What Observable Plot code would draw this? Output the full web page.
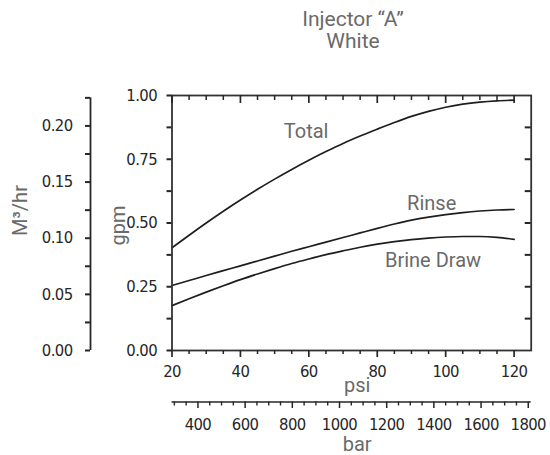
<!DOCTYPE html>
<html>
<head>
<meta charset="utf-8">
<script src="https://cdn.jsdelivr.net/npm/d3@7"></script>
<script src="https://cdn.jsdelivr.net/npm/@observablehq/plot@0.6"></script>
<style>
  html, body { margin: 0; padding: 0; background: #fff; }
  #title {
    width: 550px; height: 55px; box-sizing: border-box;
    padding-top: 8px; padding-left: 156px;
    text-align: center; font-family: Roboto, "Noto Sans", sans-serif;
    font-size: 21px; line-height: 22px; color: #6a6a6a;
  }
  #chart svg { display: block; overflow: visible; }
  #chart g[aria-label$="tick label"] text { letter-spacing: -0.6px; }
</style>
</head>
<body>
<div id="title">Injector “A”<br>White</div>
<div id="chart"></div>
<script>
// ---- data ----
const psi   = [20, 25, 30, 35, 40, 45, 50, 55, 60, 65, 70, 75, 80, 85, 90, 95, 100, 105, 110, 115, 120];
const total = [0.403, 0.452, 0.500, 0.546, 0.590, 0.632, 0.672, 0.710, 0.746, 0.780, 0.812, 0.841, 0.868, 0.894, 0.918, 0.938, 0.954, 0.966, 0.974, 0.979, 0.982];
const rinse = [0.255, 0.2745, 0.294, 0.313, 0.332, 0.351, 0.370, 0.389, 0.407, 0.425, 0.443, 0.461, 0.479, 0.496, 0.511, 0.523, 0.533, 0.541, 0.547, 0.551, 0.553];
const brine = [0.176, 0.203, 0.229, 0.254, 0.278, 0.300, 0.321, 0.341, 0.359, 0.376, 0.391, 0.405, 0.417, 0.427, 0.435, 0.441, 0.445, 0.447, 0.447, 0.444, 0.436];

const seriesNames = ["Total", "Rinse", "Brine Draw"];
const labelPsi = [59.2, 95.9, 96.3];
const labelGpm = [0.860, 0.577, 0.352];

const psiTicks = [20, 40, 60, 80, 100, 120];
const gpmTicks = [0, 0.25, 0.5, 0.75, 1];
const m3Ticks  = [0, 0.05, 0.10, 0.15, 0.20];
const barTicks = [400, 600, 800, 1000, 1200, 1400, 1600, 1800];

const M3HR_PER_GPM = 0.2271;   // secondary left axis
const BAR_FACTOR = 14.5;       // bottom "bar" axis as drawn: value = psi × 14.5

// minor tick sets
const psiMinor = d3.range(25, 125, 5).filter(v => !psiTicks.includes(v));
const gpmMinor = [0.125, 0.375, 0.625, 0.875];
const gpmInner = [0.125, 0.25, 0.375, 0.5, 0.625, 0.75, 0.875];
const m3Minor = [0.025, 0.075, 0.125, 0.175, 0.225];
const barMinor = d3.range(300, 1801, 50).filter(v => !barTicks.includes(v));

const rows = [];
psi.forEach((p, i) => {
  rows.push({series: "Total", psi: p, gpm: total[i]});
  rows.push({series: "Rinse", psi: p, gpm: rinse[i]});
  rows.push({series: "Brine Draw", psi: p, gpm: brine[i]});
});
const labels = seriesNames.map((s, i) => ({name: s, psi: labelPsi[i], gpm: labelGpm[i]}));

const tickFont = "'Liberation Sans Narrow', 'DejaVu Sans Condensed', Roboto, sans-serif";
const labFont = "Roboto, 'Noto Sans', sans-serif";
const ink = "#262626";
const gray = "#6a6a6a";

const W = 550, H = 400, mL = 171.5, mR = 19.3, mT = 40, mB = 105;
const frameW = W - mL - mR, frameH = H - mT - mB;
const leftShift = -81.5;   // M³/hr axis offset from frame left
const barShift = 51.5;     // bar axis offset below frame bottom

const lab = {fontFamily: labFont, fontSize: 20, fill: gray, textAnchor: "middle", lineAnchor: "middle"};
const tk = {stroke: ink, fill: "none", label: null};

const chart = Plot.plot({
  width: W, height: H,
  marginLeft: mL, marginRight: mR, marginTop: mT, marginBottom: mB,
  style: {background: "#fff", overflow: "visible"},
  x: {domain: [20, 125], label: null},
  y: {domain: [0, 1], label: null},
  marks: [
    // curves
    Plot.line(rows, {x: "psi", y: "gpm", z: "series", curve: "monotone-x", stroke: "#1e1e1e", strokeWidth: 1.7}),
    Plot.frame({stroke: "#333", strokeWidth: 1.8}),

    // main gpm axis (left, outward)
    Plot.axisY(gpmTicks, {anchor: "left", tickSize: 5, tickPadding: 10, tickFormat: d3.format(".2f"),
      stroke: ink, strokeWidth: 2, fill: ink, fontFamily: tickFont, fontSize: 16.5, label: null}),
    Plot.axisY(gpmMinor, {...tk, anchor: "left", tickSize: 5, strokeWidth: 2}),
    // right frame: inward ticks
    Plot.axisY(gpmInner, {...tk, anchor: "left", tickSize: 6, dx: frameW, strokeWidth: 2}),

    // psi axis bottom (outward)
    Plot.axisX(psiTicks, {anchor: "bottom", tickSize: 7, tickPadding: 8, tickFormat: d => String(d),
      stroke: ink, strokeWidth: 1.7, fill: ink, fontFamily: tickFont, fontSize: 16.5, label: null}),
    Plot.axisX(psiMinor, {...tk, anchor: "bottom", tickSize: 4, strokeWidth: 1.5}),
    // top frame: inward ticks
    Plot.axisX(psiTicks, {...tk, anchor: "bottom", tickSize: 8, dy: -frameH, strokeWidth: 1.7}),
    Plot.axisX(psiMinor, {...tk, anchor: "bottom", tickSize: 5, dy: -frameH, strokeWidth: 1.5}),

    // secondary M³/hr axis
    Plot.ruleX([20], {y1: 0, y2: 0.225 / M3HR_PER_GPM, dx: leftShift, stroke: ink, strokeWidth: 1.8}),
    Plot.axisY(m3Ticks.map(v => v / M3HR_PER_GPM), {anchor: "left", dx: leftShift, tickSize: 5, tickPadding: 13,
      tickFormat: d => (d * M3HR_PER_GPM).toFixed(2),
      stroke: ink, strokeWidth: 2, fill: ink, fontFamily: tickFont, fontSize: 16.5, label: null}),
    Plot.axisY(m3Minor.map(v => v / M3HR_PER_GPM), {...tk, anchor: "left", dx: leftShift, tickSize: 5, strokeWidth: 2}),

    // bar axis
    Plot.ruleY([0], {dy: barShift, stroke: ink, strokeWidth: 1.6}),
    Plot.axisX(barTicks.map(v => v / BAR_FACTOR), {anchor: "bottom", dy: barShift, tickSize: 6.5, tickPadding: 10,
      tickFormat: d => String(Math.round(d * BAR_FACTOR)),
      stroke: ink, strokeWidth: 1.5, fill: ink, fontFamily: tickFont, fontSize: 16.5, label: null}),
    Plot.axisX(barMinor.map(v => v / BAR_FACTOR), {...tk, anchor: "bottom", dy: barShift, tickSize: 4, strokeWidth: 1.4}),

    // axis titles
    Plot.text(["psi"], {...lab, frameAnchor: "bottom", dx: 5.5, dy: 34.6}),
    Plot.text(["bar"], {...lab, frameAnchor: "bottom", dx: 5.5, dy: 93.6}),
    Plot.text(["gpm"], {...lab, frameAnchor: "left", dx: -53.5, dy: 2.5, rotate: -90}),
    Plot.text(["M³/hr"], {...lab, frameAnchor: "left", dx: -151.2, dy: -12.5, rotate: -90}),

    // series labels
    Plot.text(labels, {...lab, x: "psi", y: "gpm", text: "name"})
  ]
});
document.getElementById("chart").appendChild(chart);
</script>
</body>
</html>
